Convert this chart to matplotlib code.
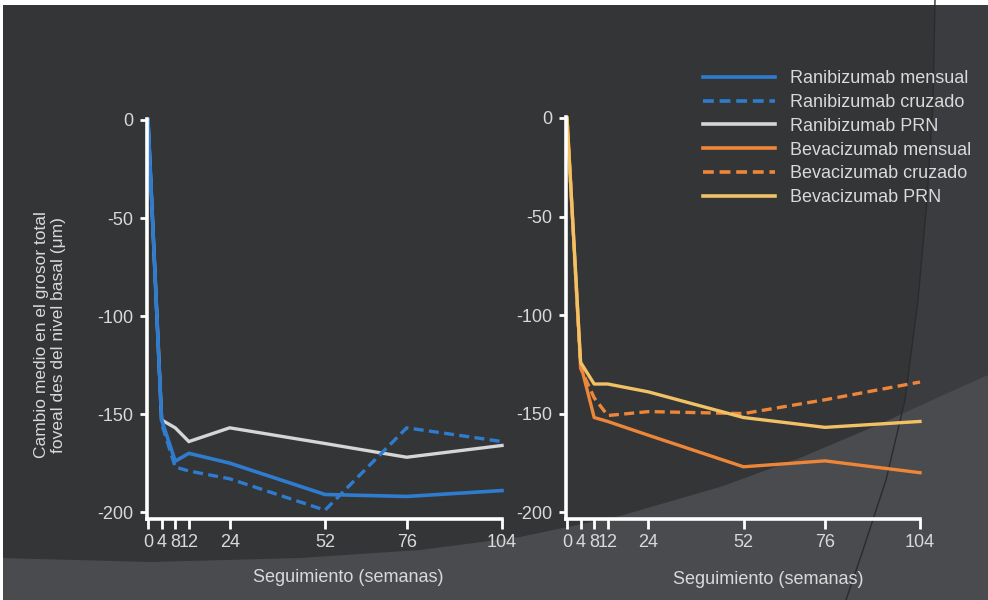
import matplotlib
matplotlib.use("Agg")
import matplotlib.pyplot as plt
from matplotlib.patches import Polygon, Rectangle
from matplotlib.lines import Line2D

plt.rcParams["axes.unicode_minus"] = False

weeks = [0, 4, 8, 12, 24, 52, 76, 104]
xtick_labels = ["0", "4", "8", "12", "24", "52", "76", "104"]
yticks = [0, -50, -100, -150, -200]

rani_mensual = [0, -153, -174, -170, -175, -191, -192, -189]
rani_cruzado = [0, -155, -177, -179, -183, -199, -157, -164]
rani_prn = [0, -153, -157, -164, -157, -165, -172, -166]

beva_mensual = [0, -125, -152, -154, -161, -177, -174, -180]
beva_cruzado = [0, -127, -142, -151, -149, -150, -143, -134]
beva_prn = [0, -124, -135, -135, -139, -152, -157, -154]

series_names = ["Ranibizumab mensual", "Ranibizumab cruzado", "Ranibizumab PRN",
                "Bevacizumab mensual", "Bevacizumab cruzado", "Bevacizumab PRN"]

BLUE = "#2f7ccf"
GREY = "#d6d6d6"
ORANGE = "#ee8639"
YELLOW = "#f1c265"
DASH = (0, (3.0, 1.6))

W, H = 988, 600
fig = plt.figure(figsize=(W / 100, H / 100), dpi=100)

# background in pixel coordinates
bg = fig.add_axes([0, 0, 1, 1], zorder=0)
bg.set_xlim(0, W)
bg.set_ylim(H, 0)
bg.axis("off")
bg.add_patch(Rectangle((0, 0), W, H, color="#343537"))
# slightly lighter area right of the big circle edge
circ = [(935, 0), (933, 100), (927, 200), (918, 300), (905, 400), (886, 480), (863, 550), (846, 600)]
bg.add_patch(Polygon(circ + [(W, 600), (W, 0)], closed=True, color="#3b3c3f", lw=0))
# lower lighter region
low = [(0, 558), (150, 562), (300, 558), (420, 550), (520, 537), (620, 516), (720, 487),
       (800, 458), (880, 424), (950, 392), (988, 375)]
bg.add_patch(Polygon(low + [(988, 600), (0, 600)], closed=True, color="#4a4b4e", lw=0))
xs, ys = zip(*circ)
bg.plot(xs, ys, color="#2a2b2d", lw=1.0)
bg.add_patch(Rectangle((0, 0), W, 5, color="white", lw=0))
bg.add_patch(Rectangle((0, 0), 3, H, color="white", lw=0))

TXT = "#d9d9d9"
FONT = "Liberation Sans"


def setup(ax, left_px, right_px, top_px):
    bottom_px = 519
    ax.set_position([left_px / W, (H - bottom_px) / H, (right_px - left_px) / W,
                     (bottom_px - top_px) / H])
    ax.set_facecolor("none")
    ax.set_xlim(-0.3, 104)
    ax.set_ylim(-203.5, 0.5)
    for s in ["top", "right"]:
        ax.spines[s].set_visible(False)
    for s in ["left", "bottom"]:
        ax.spines[s].set_color("white")
        ax.spines[s].set_linewidth(2.6)
    ax.set_xticks(weeks)
    ax.set_xticklabels(xtick_labels)
    ax.set_yticks(yticks)
    ax.tick_params(axis="x", colors="white", length=7, width=2, pad=4,
                   labelcolor=TXT, labelsize=13)
    ax.tick_params(axis="y", colors="white", length=5, width=2, pad=5,
                   labelcolor=TXT, labelsize=13)
    for lab in ax.get_xticklabels() + ax.get_yticklabels():
        lab.set_fontfamily(FONT)


ax1 = fig.add_axes([0.1, 0.1, 0.3, 0.6], zorder=2)
setup(ax1, 147, 502, 119)
ax1.plot(weeks, rani_prn, color=GREY, lw=2.4, clip_on=False, solid_joinstyle="miter")
ax1.plot(weeks, rani_mensual, color=BLUE, lw=2.6, clip_on=False)
ax1.plot(weeks, rani_cruzado, color=BLUE, lw=2.4, ls=DASH, clip_on=False)

ax2 = fig.add_axes([0.55, 0.1, 0.3, 0.6], zorder=2)
setup(ax2, 566, 920, 117)
ax2.plot(weeks, beva_mensual, color=ORANGE, lw=2.4, clip_on=False)
ax2.plot(weeks, beva_cruzado, color=ORANGE, lw=2.4, ls=DASH, clip_on=False)
ax2.plot(weeks, beva_prn, color=YELLOW, lw=2.4, clip_on=False)

# axis titles
fig.text(50 / W, 1 - 335 / H,
         "Cambio medio en el grosor total\nfoveal des del nivel basal (\u03bcm)",
         rotation=90, ha="center", va="center", color=TXT, fontsize=12.5,
         family=FONT, linespacing=1.15)
fig.text(348 / W, 1 - 578 / H, "Seguimiento (semanas)", ha="center", va="center",
         color=TXT, fontsize=13, family=FONT)
fig.text(768 / W, 1 - 580 / H, "Seguimiento (semanas)", ha="center", va="center",
         color=TXT, fontsize=13, family=FONT)

# legend
handles = [
    Line2D([], [], color=BLUE, lw=2.6),
    Line2D([], [], color=BLUE, lw=2.6, ls=DASH),
    Line2D([], [], color=GREY, lw=2.6),
    Line2D([], [], color=ORANGE, lw=2.6),
    Line2D([], [], color=ORANGE, lw=2.6, ls=DASH),
    Line2D([], [], color=YELLOW, lw=2.6),
]
leg = fig.legend(handles, series_names, loc="upper left",
                 bbox_to_anchor=(703 / W, 1 - 70 / H), frameon=False,
                 handlelength=4.0, handletextpad=0.8, labelspacing=0.38,
                 prop={"family": FONT, "size": 13}, borderaxespad=0, borderpad=0)
for t in leg.get_texts():
    t.set_color(TXT)

fig.savefig("out.png", dpi=100)
